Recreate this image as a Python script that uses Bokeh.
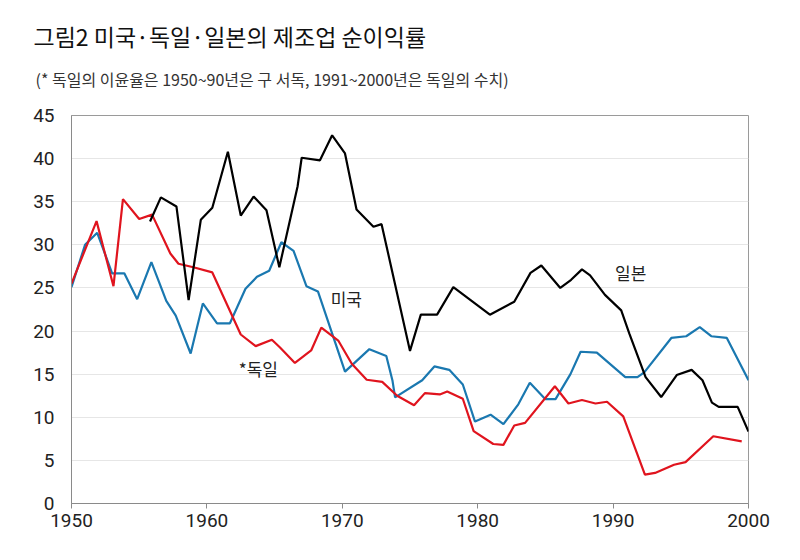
from bokeh.plotting import figure
from bokeh.models import Title, FixedTicker, ColumnDataSource
from bokeh.core.properties import value
from bokeh.embed import file_html
from bokeh.resources import INLINE

# Manufacturing net profit rate (%)
us_year = [1950, 1951.0, 1951.9, 1953.0, 1953.9, 1954.85, 1955.9, 1957.0, 1957.7, 1958.8,
           1959.7, 1960.75, 1961.7, 1962.85, 1963.7, 1964.6, 1965.5, 1966.4, 1967.35, 1968.2,
           1970.2, 1972.0, 1973.25, 1973.7, 1973.9, 1975.9, 1976.8, 1977.9, 1978.9, 1979.8,
           1980.95, 1981.9, 1983.0, 1983.85, 1985.0, 1985.75, 1986.85, 1987.6, 1988.8, 1990.9,
           1991.8, 1992.3, 1994.3, 1995.4, 1996.4, 1997.25, 1998.4, 2000.0]
us_rate = [25.1, 30.0, 31.4, 26.7, 26.7, 23.7, 28.0, 23.5, 21.8, 17.4,
           23.2, 20.9, 20.9, 24.9, 26.3, 27.0, 30.3, 29.3, 25.2, 24.6,
           15.3, 17.9, 17.1, 14.3, 12.3, 14.3, 15.9, 15.5, 13.8, 9.5,
           10.3, 9.2, 11.5, 14.0, 12.1, 12.1, 15.0, 17.6, 17.5, 14.65,
           14.65, 15.2, 19.2, 19.4, 20.45, 19.4, 19.2, 14.3]

de_year = [1950, 1951.85, 1953.1, 1953.8, 1955.0, 1955.95, 1957.3, 1957.9, 1959.0, 1960.4,
           1962.5, 1963.6, 1964.8, 1965.4, 1966.5, 1967.7, 1968.45, 1969.7, 1970.7, 1971.8,
           1972.95, 1974.05, 1975.3, 1976.1, 1977.2, 1977.75, 1978.9, 1979.7, 1981.15, 1981.9,
           1982.7, 1983.5, 1985.7, 1986.7, 1987.7, 1988.7, 1989.55, 1990.75, 1992.35, 1993.1,
           1994.5, 1995.35, 1997.4, 1999.5]
de_rate = [25.5, 32.75, 25.2, 35.3, 33.0, 33.5, 29.0, 27.8, 27.4, 26.8,
           19.6, 18.25, 19.0, 18.1, 16.3, 17.75, 20.4, 18.9, 16.2, 14.35,
           14.1, 12.5, 11.4, 12.8, 12.65, 13.0, 12.15, 8.4, 6.9, 6.8,
           9.05, 9.35, 13.6, 11.6, 12.0, 11.6, 11.8, 10.1, 3.35, 3.55,
           4.5, 4.8, 7.8, 7.2]

jp_year = [1955.8, 1956.6, 1957.75, 1958.65, 1959.55, 1960.4, 1961.55, 1962.5, 1963.45, 1964.4,
           1965.35, 1966.7, 1967.0, 1968.35, 1969.25, 1970.2, 1971.05, 1972.3, 1972.9, 1975.0,
           1975.8, 1977.0, 1978.2, 1980.9, 1982.7, 1983.9, 1984.7, 1986.1, 1986.9, 1987.7,
           1988.3, 1989.4, 1990.6, 1991.2, 1992.4, 1993.55, 1994.7, 1995.8, 1996.6, 1997.3,
           1997.8, 1999.2, 2000.0]
jp_rate = [32.7, 35.5, 34.45, 23.6, 32.9, 34.3, 40.8, 33.4, 35.6, 34.0,
           27.4, 36.8, 40.1, 39.8, 42.7, 40.6, 34.1, 32.1, 32.4, 17.7,
           21.9, 21.9, 25.1, 21.9, 23.4, 26.75, 27.6, 25.0, 25.95, 27.15,
           26.45, 24.2, 22.4, 19.7, 14.65, 12.35, 14.9, 15.5, 14.3, 11.7,
           11.2, 11.2, 8.35]

# series names placed next to the lines
label_text = ["미국", "*독일", "일본"]
label_year = [1970.3, 1963.8, 1991.3]
label_rate = [23.8, 15.7, 26.8]

x_ticks = [1950, 1960, 1970, 1980, 1990, 2000]
y_ticks = [0, 5, 10, 15, 20, 25, 30, 35, 40, 45]

title_text = "그림2 미국·독일·일본의 제조업 순이익률"
subtitle_text = "(* 독일의 이윤율은 1950~90년은 구 서독, 1991~2000년은 독일의 수치)"

kr_font = "Noto Sans CJK KR"
num_font = "Roboto"

p = figure(width=800, height=560, x_range=(1950, 2000), y_range=(0, 45),
           output_backend="svg", toolbar_location=None,
           min_border_left=71, min_border_right=52, min_border_top=115, min_border_bottom=57)

p.add_layout(Title(text=subtitle_text, text_font=kr_font, text_font_size="16px",
                   text_font_style="normal", text_color="#333333", align="left",
                   offset=-36, standoff=50), "above")
p.add_layout(Title(text=title_text, text_font=kr_font, text_font_size="23px",
                   text_font_style="normal", text_color="#111111", align="left",
                   offset=-38, standoff=-26), "above")

p.line(us_year, us_rate, line_color="#1a78b0", line_width=2.2)
p.line(de_year, de_rate, line_color="#e0141e", line_width=2.2)
p.line(jp_year, jp_rate, line_color="#000000", line_width=2.2)

src = ColumnDataSource(dict(x=label_year, y=label_rate, t=label_text))
p.text(x="x", y="y", text="t", source=src, text_font=value(kr_font),
       text_font_size="17px", text_color="#222222",
       text_align="center", text_baseline="middle")

p.outline_line_color = "#9a9a9a"
p.xgrid.grid_line_color = None
p.ygrid.grid_line_color = "#e6e6e6"
p.ygrid.ticker = FixedTicker(ticks=y_ticks)

p.xaxis.ticker = FixedTicker(ticks=x_ticks)
p.xaxis.axis_line_color = "#8a8a8a"
p.xaxis.major_tick_line_color = "#8a8a8a"
p.xaxis.major_tick_out = 5
p.xaxis.major_tick_in = 0
p.xaxis.minor_tick_line_color = None
p.xaxis.major_label_standoff = 5
p.xaxis.major_label_text_font = num_font
p.xaxis.major_label_text_font_size = "19px"
p.xaxis.major_label_text_color = "#222222"

p.yaxis.ticker = FixedTicker(ticks=y_ticks)
p.yaxis.axis_line_color = "#8a8a8a"
p.yaxis.major_tick_line_color = None
p.yaxis.minor_tick_line_color = None
p.yaxis.major_label_standoff = 11
p.yaxis.major_label_text_font = num_font
p.yaxis.major_label_text_font_size = "19px"
p.yaxis.major_label_text_color = "#222222"

open("out.html", "w").write(file_html(p, INLINE))
